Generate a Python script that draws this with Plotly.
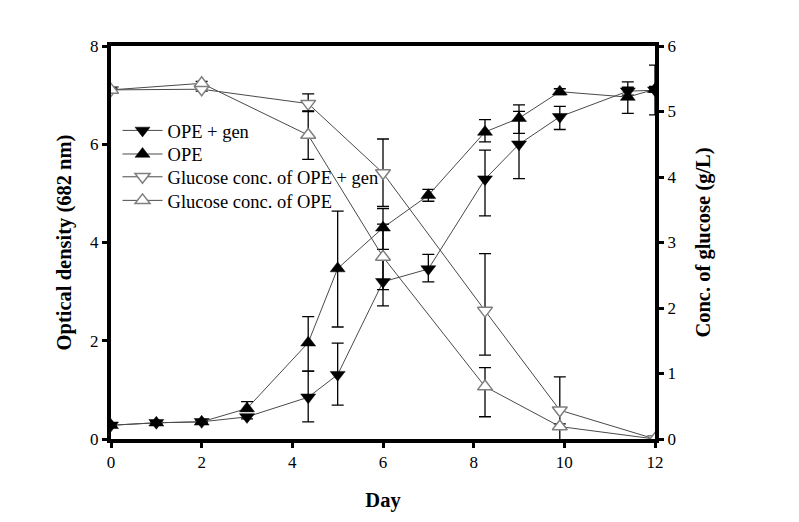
import plotly.graph_objects as go

# ---- data ----
days_od = [0, 1, 2, 3, 4.35, 5, 6, 7, 8.25, 9, 9.9, 11.4, 12]
od_gen = [0.28, 0.33, 0.35, 0.45, 0.85, 1.31, 3.2, 3.46, 5.29, 6.0, 6.56, 7.08, 7.1]
od_gen_plus = [0.02, 0.02, 0.02, 0.04, 0.53, 0.64, 0.49, 0.30, 0.59, 0.67, 0.21, 0.08, 0.51]
od_gen_minus = [0.02, 0.02, 0.02, 0.04, 0.50, 0.62, 0.49, 0.26, 0.75, 0.70, 0.26, 0.08, 0.50]
od_ope = [0.28, 0.33, 0.35, 0.62, 1.96, 3.47, 4.3, 4.96, 6.25, 6.53, 7.07, 6.96, 7.12]
od_ope_plus = [0.02, 0.02, 0.02, 0.14, 0.53, 1.17, 0.39, 0.12, 0.25, 0.27, 0.06, 0.31, 0.06]
od_ope_minus = [0.02, 0.02, 0.02, 0.05, 0.58, 1.19, 0.44, 0.12, 0.20, 0.31, 0.06, 0.33, 0.06]

days_glc = [0, 2, 4.35, 6, 8.25, 9.9, 12]
glc_gen = [5.33, 5.34, 5.12, 4.06, 1.96, 0.44, 0.0]
glc_gen_plus = [0.03, 0.03, 0.15, 0.52, 0.87, 0.51, 0.0]
glc_gen_minus = [0.03, 0.03, 0.12, 0.51, 0.68, 0.51, 0.0]
glc_ope = [5.33, 5.43, 4.64, 2.78, 0.80, 0.19, 0.0]
glc_ope_plus = [0.03, 0.03, 0.37, 0.50, 0.29, 0.04, 0.0]
glc_ope_minus = [0.03, 0.03, 0.37, 0.50, 0.46, 0.04, 0.0]

names = ["OPE + gen", "OPE", "Glucose conc. of OPE + gen", "Glucose conc. of OPE"]
x_ticks = [0, 2, 4, 6, 8, 10, 12]
y_ticks = [0, 2, 4, 6, 8]
y2_ticks = [0, 1, 2, 3, 4, 5, 6]

FONT = "Liberation Serif"
LINE_C = "#4a4a4a"
OPEN_C = "#7f7f7f"


def err(p, m):
    return dict(type="data", symmetric=False, array=p, arrayminus=m,
                color="black", thickness=1.3, width=6)


fig = go.Figure()
fig.add_trace(go.Scatter(
    x=days_od, y=od_gen, name=names[0], mode="lines+markers", legend="legend",
    line=dict(color=LINE_C, width=1),
    marker=dict(symbol="triangle-down", size=13, color="black",
                line=dict(color="black", width=0.5)),
    error_y=err(od_gen_plus, od_gen_minus)))
fig.add_trace(go.Scatter(
    x=days_od, y=od_ope, name=names[1], mode="lines+markers", legend="legend2",
    line=dict(color=LINE_C, width=1),
    marker=dict(symbol="triangle-up", size=13, color="black",
                line=dict(color="black", width=0.5)),
    error_y=err(od_ope_plus, od_ope_minus)))
fig.add_trace(go.Scatter(
    x=days_glc, y=glc_gen, name=names[2], mode="lines+markers", yaxis="y2", legend="legend3",
    line=dict(color=LINE_C, width=1),
    marker=dict(symbol="triangle-down", size=13, color="white",
                line=dict(color=OPEN_C, width=1.5)),
    error_y=err(glc_gen_plus, glc_gen_minus)))
fig.add_trace(go.Scatter(
    x=days_glc, y=glc_ope, name=names[3], mode="lines+markers", yaxis="y2", legend="legend4",
    line=dict(color=LINE_C, width=1),
    marker=dict(symbol="triangle-up", size=13, color="white",
                line=dict(color=OPEN_C, width=1.5)),
    error_y=err(glc_ope_plus, glc_ope_minus)))

axis_common = dict(showgrid=False, zeroline=False, showline=True, linecolor="black",
                   linewidth=4, ticks="outside", ticklen=5, tickwidth=3,
                   tickcolor="black", tickfont=dict(family=FONT, size=17, color="black"))


def leg(yc):
    return dict(x=0.012, y=yc, xanchor="left", yanchor="middle",
                bgcolor="rgba(0,0,0,0)", font=dict(family=FONT, size=18.5, color="black"),
                itemwidth=40)


legend_y = [0.784, 0.724, 0.666, 0.606]

fig.update_layout(
    width=799, height=522,
    margin=dict(l=103, r=152, t=38, b=91),
    paper_bgcolor="white", plot_bgcolor="white",
    font=dict(family=FONT, color="black"),
    showlegend=True,
    legend=leg(legend_y[0]),
    legend2=leg(legend_y[1]),
    legend3=leg(legend_y[2]),
    legend4=leg(legend_y[3]),
    xaxis=dict(range=[0, 12], tickvals=x_ticks, mirror=True,
               title=dict(text="<b>Day</b>", font=dict(family=FONT, size=20.5), standoff=22),
               **axis_common),
    yaxis=dict(range=[0, 8], tickvals=y_ticks,
               title=dict(text="<b>Optical density (682 nm)</b>", font=dict(family=FONT, size=20.5),
                          standoff=14),
               **axis_common),
    yaxis2=dict(range=[0, 6], tickvals=y2_ticks, overlaying="y", side="right",
                title=dict(text="<b>Conc. of glucose (g/L)</b>", font=dict(family=FONT, size=20.5),
                           standoff=21),
                **axis_common),
)

fig.write_html("out.html")
